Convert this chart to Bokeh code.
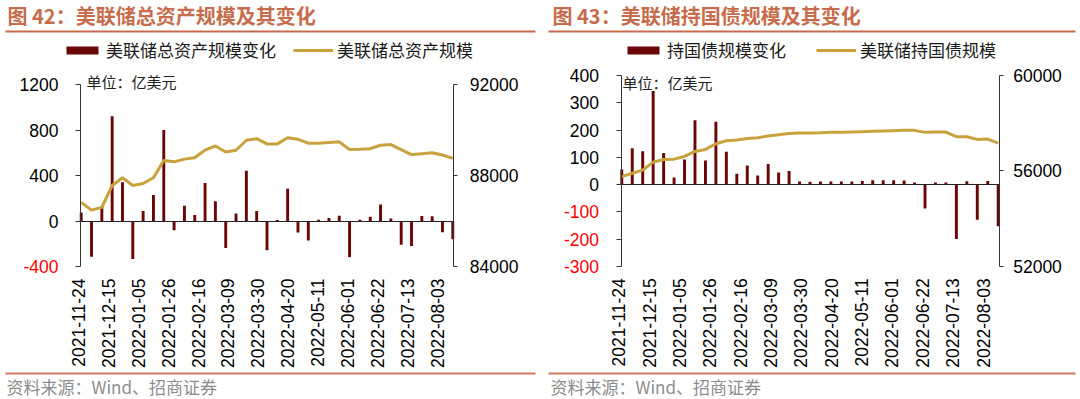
import math
import numpy as np
from bokeh.plotting import figure
from bokeh.models import (Range1d, LinearAxis, FixedTicker, Label,
                          BoxAnnotation, Legend, LegendItem, ColumnDataSource)
from bokeh.layouts import row
from bokeh.embed import file_html
from bokeh.resources import INLINE

# ---------------- data ----------------
x_tick_labels = ["2021-11-24", "2021-12-15", "2022-01-05", "2022-01-26",
                 "2022-02-16", "2022-03-09", "2022-03-30", "2022-04-20",
                 "2022-05-11", "2022-06-01", "2022-06-22", "2022-07-13",
                 "2022-08-03"]

# 美联储总资产规模变化 (亿美元, weekly)
total_change = [75, -315, 130, 920, 340, -335, 87, 229, 800, -81,
                133, 52, 333, 174, -238, 67, 441, 87, -258, 9,
                284, -101, -171, 12, 26, 46, -318, 12, 38, 145,
                23, -209, -220, 44, 41, -99, -160]
# 美联储总资产规模 (亿美元)
total_assets = [86820, 86480, 86600, 87560, 87900, 87560, 87650, 87900, 88660, 88600,
                88720, 88780, 89120, 89300, 89030, 89110, 89550, 89620, 89390, 89390,
                89660, 89590, 89420, 89420, 89450, 89480, 89140, 89150, 89180, 89330,
                89360, 89140, 88920, 88960, 89000, 88900, 88750]

# 持国债规模变化 (亿美元)
ust_change = [55, 133, 122, 343, 116, 26, 92, 236, 88, 230,
              120, 39, 70, 33, 75, 44, 50, 11, 10, 11,
              11, 11, 11, 13, 16, 16, 16, 15, 7, -88,
              7, 7, -200, 12, -129, 13, -153]
# 美联储持国债规模 (亿美元)
ust_holdings = [55760, 55900, 56030, 56365, 56477, 56491, 56604, 56814, 56899, 57137,
                57264, 57292, 57362, 57390, 57460, 57516, 57572, 57587, 57587, 57600,
                57615, 57615, 57629, 57643, 57657, 57671, 57685, 57699, 57699, 57615,
                57629, 57629, 57432, 57432, 57320, 57334, 57165]

# ---------------- style ----------------
BAR = "#6A0606"
LINE = "#C9A23E"
ACCENT = "#C66C4C"
CJK = "Noto Sans CJK SC"
NUM = "Liberation Sans"
NUMSIZE = "17.5px"
AX = "#333333"
W, H = 540, 399


def make_panel(title, bar_vals, line_vals, bar_name, line_name,
               origin_x, bar0_px, barN_px, axL_px, axR_px,
               yl_top, yl_bot, yl_ticks, yr_top, yr_bot, yr_ticks,
               top_px, bot_px, legend_px, legend_spacing,
               title_px, rule_l, rule_r, unit_px, src_px,
               l_standoff, r_standoff, r_tick):
    n = len(bar_vals)
    step = (barN_px - bar0_px) / (n - 1)
    b0 = bar0_px - origin_x
    x_range = Range1d(-b0 / step, (W - b0) / step)
    xL = (axL_px - bar0_px) / step
    xR = (axR_px - bar0_px) / step

    def yr(vt, vb):
        s = (bot_px - top_px) / (vt - vb)
        return Range1d(vb - (H - bot_px) / s, vt + top_px / s)

    src = ColumnDataSource(dict(x=list(range(n)), bar=bar_vals, line=line_vals))
    p = figure(width=W, height=H, output_backend="svg", toolbar_location=None,
               x_range=x_range, y_range=yr(yl_top, yl_bot),
               x_axis_location=None, y_axis_location=None,
               min_border=0, min_border_left=0, min_border_right=0,
               min_border_top=0, min_border_bottom=0)
    p.outline_line_color = None
    p.grid.visible = False
    p.background_fill_color = "white"
    p.border_fill_color = "white"
    p.extra_y_ranges = {"r": yr(yr_top, yr_bot)}

    vb = p.vbar(x="x", top="bar", bottom=0, width=0.28, source=src,
                fill_color=BAR, line_color=None)
    ln = p.line(x="x", y="line", source=src, y_range_name="r",
                line_color=LINE, line_width=3)

    # left value axis
    ya = LinearAxis(ticker=FixedTicker(ticks=yl_ticks), fixed_location=xL,
                    bounds=(yl_bot, yl_top))
    ya.major_label_overrides = {t: "" for t in yl_ticks if t < 0}
    ya.major_tick_out = 5
    ya.major_tick_in = 0
    ya.minor_tick_line_color = None
    ya.axis_line_color = AX
    ya.major_tick_line_color = AX
    ya.major_label_standoff = l_standoff
    ya.major_label_text_font = NUM
    ya.major_label_text_font_size = NUMSIZE
    ya.major_label_text_color = "black"
    p.add_layout(ya, "left")

    # negative tick labels shown in red
    for t in yl_ticks:
        if t < 0:
            p.add_layout(Label(x=axL_px - origin_x - 5 - l_standoff, y=t,
                               x_units="screen", y_units="data", text=str(t),
                               text_align="right", text_baseline="middle",
                               text_font=NUM, text_font_size=NUMSIZE,
                               text_color="#FF0000"))

    # right value axis
    ra = LinearAxis(y_range_name="r", ticker=FixedTicker(ticks=yr_ticks),
                    fixed_location=xR, bounds=(yr_bot, yr_top))
    ra.major_tick_out = r_tick
    ra.major_tick_in = 0
    ra.minor_tick_line_color = None
    ra.axis_line_color = AX
    ra.major_tick_line_color = AX
    ra.major_label_standoff = r_standoff
    ra.major_label_text_font = NUM
    ra.major_label_text_font_size = NUMSIZE
    ra.major_label_text_color = "black"
    p.add_layout(ra, "right")

    # zero (category) axis line
    za = LinearAxis(ticker=FixedTicker(ticks=[]), fixed_location=0, bounds=(xL, xR))
    za.axis_line_color = "#222222"
    za.major_tick_line_color = None
    za.minor_tick_line_color = None
    p.add_layout(za, "below")

    # date labels under the plot area
    tick_pos = [float(v) for v in np.linspace(-0.3, 34.55, len(x_tick_labels))]
    xa = LinearAxis(ticker=FixedTicker(ticks=tick_pos), fixed_location=yl_bot)
    xa.major_label_overrides = {t: lab for t, lab in zip(tick_pos, x_tick_labels)}
    xa.major_label_orientation = math.pi / 2
    xa.axis_line_color = None
    xa.major_tick_line_color = None
    xa.minor_tick_line_color = None
    xa.major_tick_out = 0
    xa.major_tick_in = 0
    xa.major_label_standoff = 12
    xa.major_label_text_font = NUM
    xa.major_label_text_font_size = NUMSIZE
    xa.major_label_text_color = "black"
    p.add_layout(xa, "below")

    # legend (location = bottom-left corner of the legend box)
    leg = Legend(items=[LegendItem(label=bar_name, renderers=[vb]),
                        LegendItem(label=line_name, renderers=[ln])],
                 location=(legend_px[0] - origin_x, H - legend_px[1] - 20),
                 orientation="horizontal",
                 glyph_width=40, glyph_height=10, label_standoff=4,
                 spacing=legend_spacing, padding=0, margin=0,
                 border_line_color=None, background_fill_alpha=0,
                 label_text_font=CJK, label_text_font_size="17px",
                 label_text_color="#1A1A1A", label_height=20)
    p.add_layout(leg)

    # title
    p.add_layout(Label(x=title_px[0] - origin_x, y=H - title_px[1],
                       x_units="screen", y_units="screen",
                       text=title, text_font=CJK, text_font_size="20px",
                       text_font_style="bold", text_color=ACCENT,
                       text_baseline="middle", text_align="left"))
    # rule under the title
    p.add_layout(BoxAnnotation(left=rule_l - origin_x, right=rule_r - origin_x,
                               top=H - 30, bottom=H - 32,
                               left_units="screen", right_units="screen",
                               top_units="screen", bottom_units="screen",
                               fill_color=ACCENT, fill_alpha=1, line_color=None))
    # unit text
    p.add_layout(Label(x=unit_px[0] - origin_x, y=H - unit_px[1],
                       x_units="screen", y_units="screen",
                       text="单位：亿美元", text_font=CJK, text_font_size="15px",
                       text_color="#222222", text_baseline="middle"))
    # rule above the source line
    p.add_layout(BoxAnnotation(left=rule_l - origin_x, right=rule_r - origin_x,
                               top=H - 372, bottom=H - 374,
                               left_units="screen", right_units="screen",
                               top_units="screen", bottom_units="screen",
                               fill_color=ACCENT, fill_alpha=0.9, line_color=None))
    # source
    p.add_layout(Label(x=src_px[0] - origin_x, y=H - src_px[1],
                       x_units="screen", y_units="screen",
                       text="资料来源：Wind、招商证券", text_font=CJK,
                       text_font_size="17px", text_color="#8C8C8C",
                       text_baseline="middle"))
    return p


p1 = make_panel("图 42：美联储总资产规模及其变化", total_change, total_assets,
                "美联储总资产规模变化", "美联储总资产规模",
                origin_x=0, bar0_px=80.7, barN_px=452.3, axL_px=80, axR_px=453.3,
                yl_top=1200, yl_bot=-400, yl_ticks=[-400, 0, 400, 800, 1200],
                yr_top=92000, yr_bot=84000, yr_ticks=[84000, 88000, 92000],
                top_px=84, bot_px=266, legend_px=(62, 42), legend_spacing=17,
                title_px=(7, 15), rule_l=5, rule_r=535, unit_px=(86, 81),
                src_px=(6, 386), l_standoff=17, r_standoff=12, r_tick=4)

p2 = make_panel("图 43：美联储持国债规模及其变化", ust_change, ust_holdings,
                "持国债规模变化", "美联储持国债规模",
                origin_x=540, bar0_px=621.3, barN_px=997.7, axL_px=620.5, axR_px=998.7,
                yl_top=400, yl_bot=-300,
                yl_ticks=[-300, -200, -100, 0, 100, 200, 300, 400],
                yr_top=60000, yr_bot=52000, yr_ticks=[52000, 56000, 60000],
                top_px=75, bot_px=265.75, legend_px=(623, 42), legend_spacing=30,
                title_px=(552, 15), rule_l=548, rule_r=1075, unit_px=(622, 82),
                src_px=(550, 386), l_standoff=17, r_standoff=10, r_tick=4)

layout = row(p1, p2)
open("out.html", "w").write(file_html(layout, INLINE))
